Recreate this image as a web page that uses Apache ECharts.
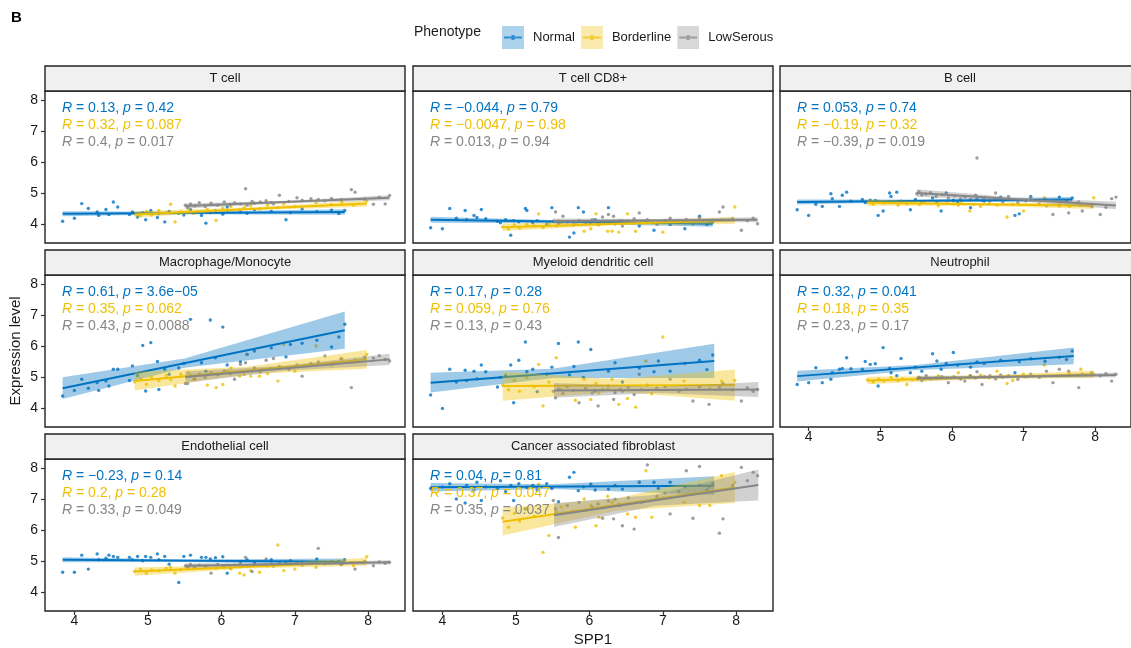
<!DOCTYPE html>
<html><head><meta charset="utf-8">
<script src="https://cdn.jsdelivr.net/npm/echarts@6/dist/echarts.min.js"></script>
<style>html,body{margin:0;padding:0;background:#fff}#c{width:1131px;height:648px}</style>
</head><body><div id="c"></div>
<script>
// ---------------- DATA ----------------
const groups = ['Normal', 'Borderline', 'LowSerous'];
const panelTitles = ['T cell', 'T cell CD8+', 'B cell', 'Macrophage/Monocyte', 'Myeloid dendritic cell', 'Neutrophil', 'Endothelial cell', 'Cancer associated fibroblast'];
const xTicks = [4, 5, 6, 7, 8];
const yTicks = [4, 5, 6, 7, 8];

// SPP1 expression (x) per phenotype, shared by all panels
const spp1Normal = [3.84, 4.00, 4.10, 4.19, 4.31, 4.33, 4.43, 4.47, 4.53, 4.59, 4.75, 4.79, 4.86, 4.93, 4.97, 5.04, 5.13, 5.15, 5.23, 5.29, 5.42, 5.49, 5.58, 5.73, 5.79, 5.85, 5.92, 6.02, 6.08, 6.26, 6.35, 6.45, 6.68, 6.88, 6.94, 7.10, 7.30, 7.50, 7.60, 7.68];
const spp1Borderline = [4.82, 4.90, 4.98, 5.05, 5.15, 5.25, 5.31, 5.37, 5.45, 5.55, 5.62, 5.81, 5.93, 6.02, 6.09, 6.13, 6.25, 6.31, 6.40, 6.52, 6.63, 6.77, 6.85, 7.00, 7.29, 7.50, 7.64, 7.80, 7.98];
const spp1LowSerous = [5.51, 5.54, 5.58, 5.64, 5.70, 5.78, 5.86, 5.95, 6.04, 6.12, 6.18, 6.26, 6.33, 6.35, 6.42, 6.45, 6.53, 6.61, 6.68, 6.71, 6.79, 6.92, 7.03, 7.10, 7.22, 7.32, 7.41, 7.50, 7.63, 7.77, 7.82, 7.95, 8.07, 8.15, 8.23, 8.29];

// Expression level (y) per panel and phenotype
const tcellNormal = [4.10, 4.20, 4.67, 4.51, 4.40, 4.29, 4.48, 4.32, 4.72, 4.56, 4.32, 4.40, 4.24, 4.38, 4.15, 4.45, 4.22, 4.35, 4.08, 4.42, 4.36, 4.30, 4.47, 4.29, 4.04, 4.38, 4.44, 4.33, 4.56, 4.40, 4.36, 4.48, 4.42, 4.15, 4.38, 4.50, 4.41, 4.46, 4.35, 4.45];
const tcellBorderline = [4.35, 4.28, 4.42, 4.30, 4.45, 4.38, 4.65, 4.08, 4.40, 4.50, 4.36, 4.48, 4.13, 4.52, 4.44, 4.58, 4.47, 4.55, 4.60, 4.50, 4.62, 4.55, 4.66, 4.58, 4.70, 4.64, 4.72, 4.62, 4.75];
const tcellLowSerous = [4.62, 4.55, 4.66, 4.60, 4.70, 4.58, 4.68, 4.62, 4.72, 4.64, 4.70, 4.66, 5.15, 4.62, 4.74, 4.68, 4.72, 4.76, 4.70, 4.66, 4.94, 4.74, 4.86, 4.78, 4.83, 4.80, 4.76, 4.84, 4.80, 5.12, 5.04, 4.82, 4.65, 4.88, 4.66, 4.93];

const cd8Normal = [3.89, 3.86, 4.51, 4.20, 4.45, 4.15, 4.29, 4.22, 4.48, 4.18, 4.10, 4.05, 4.15, 3.65, 4.12, 4.08, 4.51, 4.45, 4.05, 4.12, 4.00, 4.54, 4.10, 3.59, 3.72, 4.54, 4.40, 4.05, 4.15, 4.54, 4.02, 4.10, 3.95, 3.81, 4.05, 4.00, 3.86, 4.26, 4.00, 4.08];
const cd8Borderline = [3.92, 3.85, 3.98, 3.88, 4.00, 3.95, 4.34, 3.90, 4.02, 3.95, 4.05, 4.00, 3.78, 3.86, 4.34, 3.98, 3.78, 3.78, 3.75, 4.34, 3.78, 4.10, 4.05, 3.75, 4.08, 4.12, 4.05, 4.15, 4.56];
const cd8LowSerous = [4.10, 4.40, 4.02, 4.26, 4.08, 3.98, 4.12, 4.05, 4.15, 4.00, 4.24, 4.32, 4.26, 4.05, 4.12, 3.95, 4.10, 4.18, 4.37, 4.05, 4.15, 4.00, 4.12, 4.20, 4.08, 4.16, 4.02, 4.22, 4.10, 4.40, 4.56, 4.18, 3.81, 4.12, 4.20, 4.02];

const bcellNormal = [4.47, 4.29, 4.65, 4.58, 4.99, 4.83, 4.58, 4.94, 5.04, 4.75, 4.80, 4.70, 4.78, 4.77, 4.29, 4.43, 5.01, 4.90, 5.04, 4.75, 4.47, 4.80, 4.72, 4.85, 4.70, 4.43, 5.01, 4.78, 4.70, 4.54, 4.82, 4.75, 4.88, 4.29, 4.34, 4.90, 4.80, 4.88, 4.76, 4.85];
const bcellBorderline = [4.72, 4.65, 4.75, 4.68, 4.70, 4.62, 4.74, 4.66, 4.70, 4.64, 4.72, 4.60, 4.68, 4.66, 4.62, 4.70, 4.43, 4.64, 4.58, 4.66, 4.62, 4.24, 4.65, 4.43, 4.86, 4.60, 4.58, 4.62, 4.86];
const bcellLowSerous = [4.99, 5.05, 4.95, 4.98, 5.02, 4.90, 4.96, 4.85, 4.92, 4.82, 4.88, 4.80, 4.94, 6.14, 4.78, 4.86, 4.75, 5.01, 4.80, 4.72, 4.90, 4.70, 4.76, 4.88, 4.65, 4.60, 4.32, 4.62, 4.37, 4.72, 4.43, 4.58, 4.32, 4.55, 4.83, 4.88];

const macroNormal = [4.40, 4.58, 4.94, 4.65, 4.83, 4.58, 4.88, 4.72, 5.26, 5.26, 4.90, 5.37, 5.05, 6.03, 4.56, 6.12, 5.51, 4.61, 5.26, 5.10, 5.30, 5.45, 6.87, 5.47, 5.20, 6.85, 5.63, 6.62, 5.40, 5.50, 5.74, 5.85, 5.95, 5.66, 6.06, 6.10, 6.20, 5.98, 6.30, 6.71];
const macroBorderline = [4.85, 4.95, 4.78, 5.00, 4.90, 5.05, 4.92, 4.72, 5.10, 5.15, 4.95, 4.75, 4.67, 4.77, 5.20, 5.30, 5.04, 5.10, 5.04, 5.04, 5.12, 4.88, 6.06, 5.20, 6.01, 5.40, 5.60, 5.50, 5.74];
const macroLowSerous = [4.80, 4.80, 5.05, 4.94, 5.10, 5.00, 5.15, 5.08, 5.20, 5.12, 4.94, 5.42, 5.47, 5.74, 5.20, 5.30, 5.18, 5.55, 5.28, 5.61, 5.35, 5.25, 5.40, 5.04, 5.45, 5.50, 5.69, 5.45, 5.60, 4.67, 5.55, 5.65, 5.62, 5.70, 5.58, 5.53];

const myeloidNormal = [4.43, 4.00, 5.26, 4.85, 5.23, 4.90, 5.20, 4.95, 5.40, 5.18, 4.69, 5.00, 5.05, 5.40, 4.18, 5.55, 6.14, 5.18, 5.26, 4.54, 5.10, 5.33, 6.09, 5.08, 5.35, 6.14, 5.00, 5.90, 4.56, 5.20, 5.47, 4.85, 5.30, 5.18, 5.53, 5.20, 5.45, 5.55, 5.25, 5.72];
const myeloidBorderline = [4.75, 4.60, 4.90, 4.55, 5.00, 4.70, 5.42, 4.08, 4.85, 5.63, 4.60, 4.26, 4.94, 4.29, 4.80, 4.50, 4.62, 4.94, 4.13, 4.32, 4.04, 5.53, 4.47, 6.30, 4.88, 4.70, 4.65, 4.88, 4.90];
const myeloidLowSerous = [4.55, 4.34, 4.62, 4.48, 4.70, 4.58, 4.18, 4.65, 4.50, 4.08, 4.60, 4.72, 4.29, 4.51, 4.62, 4.55, 4.68, 4.45, 5.10, 4.60, 4.75, 4.65, 4.70, 4.94, 4.55, 4.62, 4.24, 4.70, 4.13, 4.68, 4.80, 4.60, 4.24, 4.66, 4.55, 4.61];

const neutroNormal = [4.77, 4.83, 5.31, 4.83, 4.94, 5.15, 5.26, 5.29, 5.63, 5.28, 5.26, 5.51, 5.42, 5.44, 4.72, 5.96, 5.29, 5.15, 5.05, 5.61, 5.15, 5.33, 5.20, 5.76, 5.53, 5.26, 5.45, 5.80, 5.40, 5.33, 5.50, 5.45, 5.55, 5.15, 5.50, 5.60, 5.52, 5.65, 5.58, 5.85];
const neutroBorderline = [4.92, 4.85, 4.95, 4.88, 5.00, 4.90, 4.95, 4.77, 4.92, 5.00, 4.95, 5.05, 4.98, 5.02, 5.15, 4.95, 5.05, 5.00, 5.08, 4.98, 5.20, 4.80, 4.90, 5.10, 5.40, 5.05, 5.12, 5.26, 5.10];
const neutroLowSerous = [4.95, 5.00, 4.90, 5.05, 4.95, 4.98, 5.02, 4.83, 5.00, 4.95, 4.88, 5.05, 4.98, 5.18, 4.77, 5.02, 5.05, 4.95, 5.08, 5.00, 5.05, 4.94, 5.02, 5.10, 5.00, 5.20, 4.83, 5.26, 5.20, 4.67, 5.10, 5.15, 5.05, 5.12, 4.88, 5.10];

const endoNormal = [4.65, 4.65, 5.20, 4.75, 5.24, 5.05, 5.10, 5.20, 5.16, 5.13, 5.13, 5.05, 5.16, 5.02, 5.16, 5.13, 5.24, 5.05, 5.16, 4.91, 4.32, 5.16, 5.20, 5.13, 5.13, 5.08, 5.12, 5.15, 4.62, 5.00, 5.05, 4.95, 5.05, 4.98, 5.02, 4.95, 5.08, 4.96, 5.00, 5.05];
const endoBorderline = [4.68, 4.75, 4.62, 4.72, 4.70, 4.78, 4.80, 4.62, 4.74, 4.80, 4.76, 4.85, 4.78, 4.82, 4.88, 4.75, 4.62, 4.56, 4.70, 4.65, 4.85, 5.53, 4.70, 4.75, 4.81, 4.95, 4.90, 4.86, 5.15];
const endoLowSerous = [4.85, 4.80, 4.90, 4.82, 4.88, 4.84, 4.62, 4.90, 4.86, 4.80, 4.88, 4.92, 5.13, 4.85, 4.67, 4.90, 4.88, 5.08, 4.92, 4.85, 4.95, 4.90, 4.94, 4.88, 4.95, 5.42, 4.92, 5.00, 4.90, 4.96, 4.75, 5.00, 4.86, 4.98, 4.94, 4.97];

const cafNormal = [7.35, 7.40, 7.50, 7.01, 6.88, 7.45, 7.30, 7.55, 6.96, 7.40, 7.35, 7.60, 7.25, 7.45, 6.96, 7.50, 6.69, 7.38, 7.45, 7.30, 7.50, 7.35, 6.92, 7.71, 7.87, 7.28, 7.40, 7.49, 7.30, 7.33, 7.45, 7.33, 7.55, 7.55, 7.35, 7.55, 7.40, 7.45, 7.30, 7.50];
const cafBorderline = [6.40, 6.10, 6.55, 6.30, 6.70, 6.45, 7.49, 5.29, 5.83, 6.60, 6.75, 6.10, 7.01, 6.80, 6.15, 6.42, 7.10, 6.90, 6.85, 6.53, 6.42, 7.92, 6.42, 7.05, 6.90, 6.80, 6.80, 7.76, 7.55];
const cafLowSerous = [6.96, 6.70, 5.77, 6.55, 6.80, 6.60, 6.90, 6.65, 6.75, 6.85, 6.39, 6.95, 6.37, 7.00, 6.80, 6.15, 7.05, 6.04, 7.55, 6.90, 8.11, 7.10, 7.20, 6.53, 7.25, 7.92, 6.39, 8.06, 7.40, 5.91, 6.37, 7.45, 8.03, 7.60, 7.87, 7.76];

// Linear fits: per phenotype [SPP1, fitted value, CI half width] at start / middle / end
const tcellFit = [[[3.84, 4.34, 0.08], [5.5, 4.37, 0.04], [7.68, 4.40, 0.09]], [[4.82, 4.32, 0.1], [6.35, 4.50, 0.045], [7.98, 4.67, 0.1]], [[5.51, 4.59, 0.08], [6.9, 4.72, 0.04], [8.29, 4.86, 0.08]]];
const cd8Fit = [[[3.84, 4.15, 0.1], [5.5, 4.09, 0.05], [7.68, 4.02, 0.1]], [[4.82, 3.91, 0.12], [6.35, 4.02, 0.05], [7.98, 4.13, 0.12]], [[5.51, 4.11, 0.08], [6.9, 4.13, 0.04], [8.29, 4.15, 0.08]]];
const bcellFit = [[[3.84, 4.72, 0.08], [5.5, 4.76, 0.04], [7.68, 4.80, 0.08]], [[4.82, 4.70, 0.1], [6.35, 4.65, 0.05], [7.98, 4.60, 0.1]], [[5.51, 5.01, 0.12], [6.9, 4.81, 0.06], [8.29, 4.61, 0.12]]];
const macroFit = [[[3.84, 4.65, 0.35], [5.5, 5.46, 0.15], [7.68, 6.52, 0.6]], [[4.82, 4.88, 0.3], [6.35, 5.22, 0.12], [7.98, 5.58, 0.3]], [[5.51, 5.01, 0.18], [6.9, 5.30, 0.08], [8.29, 5.58, 0.18]]];
const myeloidFit = [[[3.84, 4.83, 0.32], [5.5, 5.13, 0.15], [7.70, 5.53, 0.55]], [[4.82, 4.72, 0.47], [6.35, 4.74, 0.2], [7.98, 4.75, 0.5]], [[5.52, 4.58, 0.24], [6.9, 4.60, 0.1], [8.30, 4.61, 0.24]]];
const neutroFit = [[[3.84, 5.04, 0.17], [5.5, 5.32, 0.08], [7.70, 5.69, 0.27]], [[4.82, 4.90, 0.12], [6.35, 5.00, 0.05], [7.98, 5.10, 0.12]], [[5.51, 4.97, 0.08], [6.9, 5.02, 0.04], [8.29, 5.08, 0.08]]];
const endoFit = [[[3.84, 5.05, 0.08], [5.5, 5.02, 0.04], [7.68, 4.99, 0.1]], [[4.82, 4.67, 0.13], [6.35, 4.83, 0.06], [7.98, 4.99, 0.13]], [[5.51, 4.86, 0.07], [6.9, 4.91, 0.035], [8.29, 4.97, 0.07]]];
const cafFit = [[[3.84, 7.39, 0.14], [5.5, 7.41, 0.08], [7.70, 7.44, 0.3]], [[4.82, 6.28, 0.45], [6.35, 6.82, 0.2], [7.98, 7.38, 0.5]], [[5.52, 6.49, 0.38], [6.9, 6.97, 0.18], [8.30, 7.46, 0.5]]];

// Correlation statistics per panel: [Normal, Borderline, LowSerous]
const tcellR = ['0.13', '0.32', '0.4'], tcellP = ['0.42', '0.087', '0.017'];
const cd8R = ['\u22120.044', '\u22120.0047', '0.013'], cd8P = ['0.79', '0.98', '0.94'];
const bcellR = ['0.053', '\u22120.19', '\u22120.39'], bcellP = ['0.74', '0.32', '0.019'];
const macroR = ['0.61', '0.35', '0.43'], macroP = ['3.6e\u221205', '0.062', '0.0088'];
const myeloidR = ['0.17', '0.059', '0.13'], myeloidP = ['0.28', '0.76', '0.43'];
const neutroR = ['0.32', '0.18', '0.23'], neutroP = ['0.041', '0.35', '0.17'];
const endoR = ['\u22120.23', '0.2', '0.33'], endoP = ['0.14', '0.28', '0.049'];
const cafR = ['0.04', '0.37', '0.35'], cafP = ['0.81', '0.047', '0.037'];

// ---------------- STYLE / LAYOUT ----------------
const colors = ['#0073C2', '#EFC000', '#868686'];
const keyFill = ['#99C7E7', '#F9E699', '#CFCFCF'];
const FONT = '"Liberation Sans", Arial, Helvetica, sans-serif';
const colLeft = [45, 413, 780];
const rowTop = [91, 275, 459];
const PW = 360, PH = 152, STRIP = 25;

const spp1 = [spp1Normal, spp1Borderline, spp1LowSerous];
const panelY = [
  [tcellNormal, tcellBorderline, tcellLowSerous],
  [cd8Normal, cd8Borderline, cd8LowSerous],
  [bcellNormal, bcellBorderline, bcellLowSerous],
  [macroNormal, macroBorderline, macroLowSerous],
  [myeloidNormal, myeloidBorderline, myeloidLowSerous],
  [neutroNormal, neutroBorderline, neutroLowSerous],
  [endoNormal, endoBorderline, endoLowSerous],
  [cafNormal, cafBorderline, cafLowSerous]
];
const panelFit = [tcellFit, cd8Fit, bcellFit, macroFit, myeloidFit, neutroFit, endoFit, cafFit];
const panelR = [tcellR, cd8R, bcellR, macroR, myeloidR, neutroR, endoR, cafR];
const panelP = [tcellP, cd8P, bcellP, macroP, myeloidP, neutroP, endoP, cafP];

const grids = [], xAxes = [], yAxes = [], series = [], graphics = [];

graphics.push({ type: 'text', x: 11, y: 18, style: { text: 'B', font: 'bold 15px ' + FONT, fill: '#000', verticalAlign: 'middle' } });
graphics.push({ type: 'text', x: 414, y: 32, style: { text: 'Phenotype', font: '14px ' + FONT, fill: '#1a1a1a', verticalAlign: 'middle' } });

panelTitles.forEach((title, p) => {
  const row = Math.floor(p / 3), col = p % 3;
  const L = colLeft[col], T = rowTop[row];
  const showX = row === 2 || (row === 1 && col === 2);
  const showY = col === 0;
  grids.push({ left: L, top: T, width: PW, height: PH, show: true, borderColor: '#222', borderWidth: 1.4, backgroundColor: '#fff', containLabel: false });
  xAxes.push({
    gridIndex: p, type: 'value', min: 3.6, max: 8.5,
    axisLine: { show: false }, splitLine: { show: false },
    axisTick: { show: showX, length: 4, lineStyle: { color: '#333', width: 1.2 }, customValues: xTicks },
    axisLabel: { show: showX, customValues: xTicks, color: '#1a1a1a', fontSize: 14, margin: 3, fontFamily: FONT },
    name: p === 7 ? 'SPP1' : '', nameLocation: 'middle', nameGap: 21,
    nameTextStyle: { fontSize: 15, color: '#1a1a1a', fontFamily: FONT }
  });
  yAxes.push({
    gridIndex: p, type: 'value', min: 3.4, max: 8.3,
    axisLine: { show: false }, splitLine: { show: false },
    axisTick: { show: showY, length: 4, lineStyle: { color: '#333', width: 1.2 }, customValues: yTicks },
    axisLabel: { show: showY, customValues: yTicks, color: '#1a1a1a', fontSize: 14, margin: 7, fontFamily: FONT },
    name: p === 3 ? 'Expression level' : '', nameLocation: 'middle', nameGap: 22, nameRotate: 90,
    nameTextStyle: { fontSize: 15, color: '#1a1a1a', fontFamily: FONT }
  });
  // strip
  graphics.push({ type: 'rect', shape: { x: L, y: T - STRIP, width: PW, height: STRIP }, style: { fill: '#f0f0f0', stroke: '#222', lineWidth: 1.4 }, z: 10 });
  graphics.push({ type: 'text', x: L + PW / 2, y: T - STRIP / 2, style: { text: title, font: '13px ' + FONT, fill: '#1a1a1a', align: 'center', verticalAlign: 'middle' }, z: 11 });

  groups.forEach((g, k) => {
    const xs = spp1[k], ys = panelY[p][k], fit = panelFit[p][k];
    series.push({
      type: 'scatter', name: g, xAxisIndex: p, yAxisIndex: p, silent: true, z: 2,
      symbol: 'circle', symbolSize: 3.4, itemStyle: { color: colors[k] },
      data: xs.map((x, i) => [x, ys[i]])
    });
    series.push({
      type: 'custom', name: g, xAxisIndex: p, yAxisIndex: p, silent: true, z: 3 + 2 * k, clip: true,
      itemStyle: { color: keyFill[k] },
      data: fit,
      encode: { x: 0, y: 1 },
      renderItem: (params, api) => {
        if (params.dataIndex !== 0) return null;
        const pts = [];
        fit.forEach(r => pts.push(api.coord([r[0], r[1] + r[2]])));
        for (let i = fit.length - 1; i >= 0; i--) pts.push(api.coord([fit[i][0], fit[i][1] - fit[i][2]]));
        return { type: 'polygon', shape: { points: pts }, style: { fill: colors[k], opacity: 0.38 } };
      }
    });
    series.push({
      type: 'line', name: g, xAxisIndex: p, yAxisIndex: p, silent: true, z: 4 + 2 * k,
      symbol: 'none', lineStyle: { color: colors[k], width: 2 }, itemStyle: { color: colors[k] },
      data: [[fit[0][0], fit[0][1]], [fit[fit.length - 1][0], fit[fit.length - 1][1]]]
    });
    graphics.push({
      type: 'text', x: L + 17, y: T + 17 + 17.3 * k, z: 12,
      style: {
        text: '{i|R} = ' + panelR[p][k] + ', {i|p} = ' + panelP[p][k],
        font: '14px ' + FONT, fill: colors[k], verticalAlign: 'middle',
        rich: { i: { fontStyle: 'italic', fontSize: 14, fontFamily: FONT, fill: colors[k] } }
      }
    });
  });
});

function keyIcon(k) {
  const svg = "<svg xmlns='http://www.w3.org/2000/svg' width='22' height='23'>" +
    "<rect width='22' height='23' fill='" + keyFill[k] + "'/>" +
    "<line x1='2' y1='11.5' x2='20' y2='11.5' stroke='" + colors[k] + "' stroke-width='2'/>" +
    "<rect x='9.5' y='9' width='3' height='5' fill='" + colors[k] + "'/></svg>";
  return 'image://data:image/svg+xml;charset=utf-8,' + encodeURIComponent(svg);
}

const chart = echarts.init(document.getElementById('c'), null, { renderer: 'canvas' });
chart.setOption({
  animation: false,
  backgroundColor: '#fff',
  grid: grids, xAxis: xAxes, yAxis: yAxes, series: series,
  legend: {
    left: 497, top: 21, orient: 'horizontal', itemWidth: 22, itemHeight: 23, itemGap: 6,
    selectedMode: false,
    textStyle: { fontSize: 13, color: '#1a1a1a', fontFamily: FONT, padding: [0, 0, 0, 4] },
    data: groups.map((g, k) => ({ name: g, icon: keyIcon(k) }))
  },
  graphic: graphics
});
</script></body></html>
